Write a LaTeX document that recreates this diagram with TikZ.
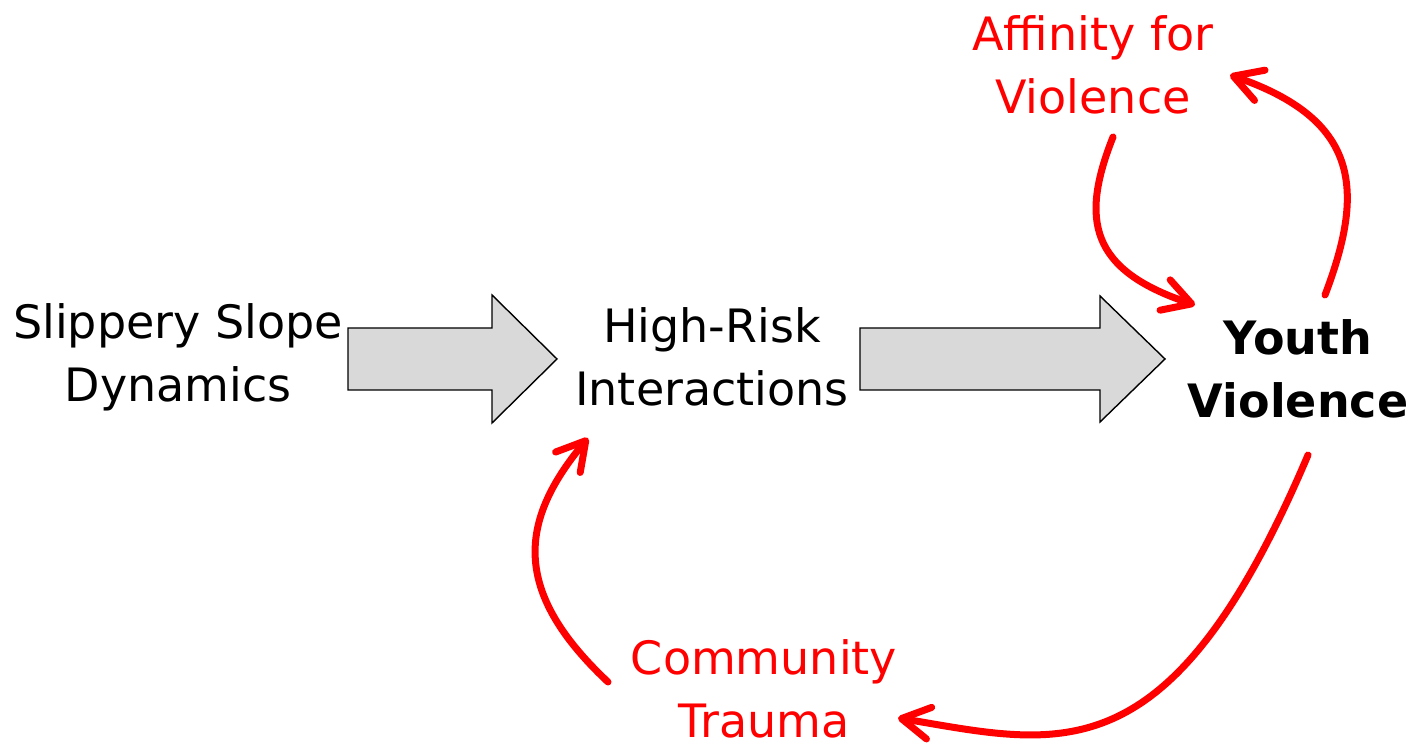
\documentclass[tikz,border=0pt]{standalone}
\usepackage{fontspec}
\setmainfont{DejaVu Sans}
\usetikzlibrary{arrows.meta}
\definecolor{rd}{RGB}{255,0,0}
\definecolor{gr}{RGB}{217,217,217}
\tikzset{
  lbl/.style={align=center, inner sep=0pt, font=\fontsize{23}{31.5}\selectfont},
  redlbl/.style={lbl, text=rd},
  bigarrow/.style={fill=gr, draw=black, line width=0.7pt, line join=miter},
  loop/.style={draw=rd, line width=3.5pt, line cap=round, -{Straight Barb[length=14pt,width=16pt,line cap=round,line join=round]}}
}
\begin{document}
\begin{tikzpicture}[x=0.5pt,y=-0.5pt]
\useasboundingbox (0,0) rectangle (1418,747);
\node[lbl] (ssd) at (178,357) {Slippery Slope\\Dynamics};
\node[lbl] (hri) at (712,357) {High-Risk\\Interactions};
\node[lbl, font=\fontsize{23}{31.5}\selectfont\bfseries] (yv) at (1298,369) {Youth\\Violence};
\node[redlbl] (afv) at (1093,65) {Affinity for\\Violence};
\node[redlbl] (ct) at (764,689) {Community\\Trauma};
% big arrows
\draw[bigarrow] (348,328) -- (492,328) -- (492,295) -- (557,359) -- (492,423) -- (492,390) -- (348,390) -- cycle;
\draw[bigarrow] (860,328) -- (1100,328) -- (1100,296) -- (1165,359) -- (1100,422) -- (1100,390) -- (860,390) -- cycle;
% loop endpoints
\coordinate (a1) at (1113,137);
\coordinate (a2) at (1195,305);
\coordinate (b1) at (1325,295);
\coordinate (b2) at (1230,75);
\coordinate (c1) at (1308,455);
\coordinate (c2) at (898,718);
\coordinate (d1) at (608,682);
\coordinate (d2) at (588,438);
\draw[loop] (a1) .. controls (1080,220) and (1090,270) .. (a2);
\draw[loop] (b1) .. controls (1365,190) and (1360,120) .. (b2);
\draw[loop] (c1) .. controls (1170,780) and (1060,745) .. (c2);
\draw[loop] (d1) .. controls (510,590) and (520,520) .. (d2);
\end{tikzpicture}
\end{document}
